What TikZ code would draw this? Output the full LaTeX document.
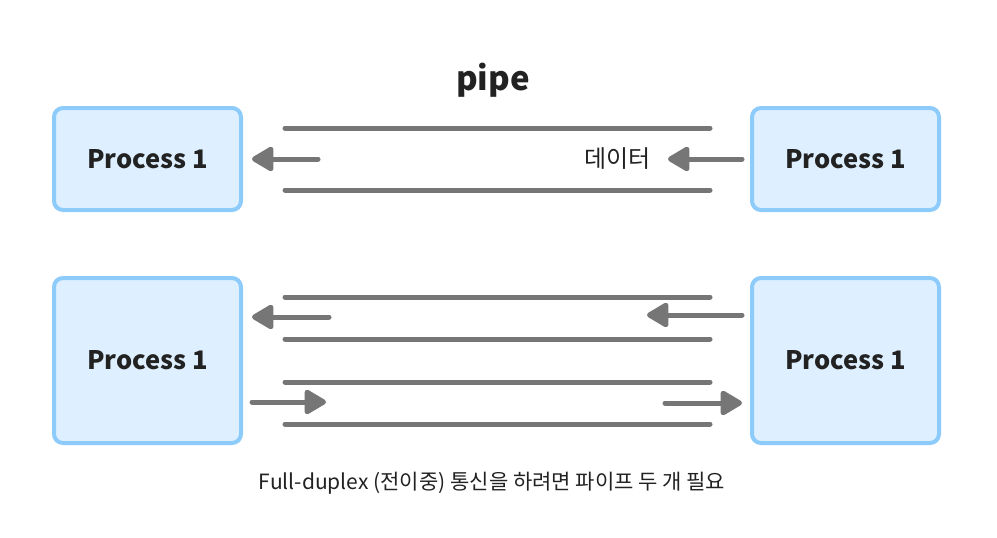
\documentclass[tikz,border=0pt]{standalone}
\usepackage{fontspec}
\setmainfont{Noto Sans CJK KR}
\usetikzlibrary{arrows.meta}
\definecolor{boxline}{HTML}{8DCBFB}
\definecolor{boxfill}{HTML}{DEF0FF}
\definecolor{pipeg}{HTML}{767676}
\definecolor{txt}{HTML}{222222}
\tikzset{
  procbox/.style={draw=boxline, fill=boxfill, line width=4pt, rounded corners=9pt,
    minimum width=187pt, inner sep=0pt, text=txt, font=\fontsize{25.5}{30}\selectfont\bfseries},
  pipeline/.style={draw=pipeg, line width=5pt, line cap=round},
  flow/.style={draw=pipeg, line width=5pt, line cap=round,
    -{Triangle[length=24pt,width=27pt,round]}},
}
\begin{document}
\begin{tikzpicture}[x=1pt,y=-1pt]
\fill[white] (0,0) rectangle (997,538);
\useasboundingbox (0,0) rectangle (997,538);

\node[txt, font=\fontsize{33}{38}\selectfont\bfseries] (title) at (493,80) {pipe};

% top
\node[procbox, minimum height=102pt] (tl) at (147.5,159) {Process 1};
\node[procbox, minimum height=102pt] (tr) at (845.5,159) {Process 1};
\coordinate (p1a) at (285,128); \coordinate (p1b) at (710,128);
\coordinate (p2a) at (285,190); \coordinate (p2b) at (710,190);
\draw[pipeline] (p1a) -- (p1b);
\draw[pipeline] (p2a) -- (p2b);
\coordinate (a1s) at (318,159); \coordinate (a1t) at (252,159);
\coordinate (a2s) at (742,159); \coordinate (a2t) at (668,159);
\draw[flow] (a1s) -- (a1t);
\draw[flow] (a2s) -- (a2t);
\node[txt, font=\fontsize{24}{28}\selectfont] (data) at (617.5,159) {데이터};

% bottom
\node[procbox, minimum height=165pt] (bl) at (147.5,360.5) {Process 1};
\node[procbox, minimum height=165pt] (br) at (845.5,360.5) {Process 1};
\coordinate (q1a) at (285,297); \coordinate (q1b) at (710,297);
\coordinate (q2a) at (285,339); \coordinate (q2b) at (710,339);
\coordinate (q3a) at (285,382); \coordinate (q3b) at (710,382);
\coordinate (q4a) at (285,424); \coordinate (q4b) at (710,424);
\draw[pipeline] (q1a) -- (q1b);
\draw[pipeline] (q2a) -- (q2b);
\draw[pipeline] (q3a) -- (q3b);
\draw[pipeline] (q4a) -- (q4b);
\coordinate (b1s) at (329,317); \coordinate (b1t) at (252,317);
\coordinate (b2s) at (742,315); \coordinate (b2t) at (647,315);
\coordinate (b3s) at (252,402); \coordinate (b3t) at (326,402);
\coordinate (b4s) at (665,403); \coordinate (b4t) at (742,403);
\draw[flow] (b1s) -- (b1t);
\draw[flow] (b2s) -- (b2t);
\draw[flow] (b3s) -- (b3t);
\draw[flow] (b4s) -- (b4t);

\node[txt, font=\fontsize{21}{25}\selectfont] (cap) at (492,483) {Full-duplex (전이중) 통신을 하려면 파이프 두 개 필요};
\end{tikzpicture}
\end{document}
